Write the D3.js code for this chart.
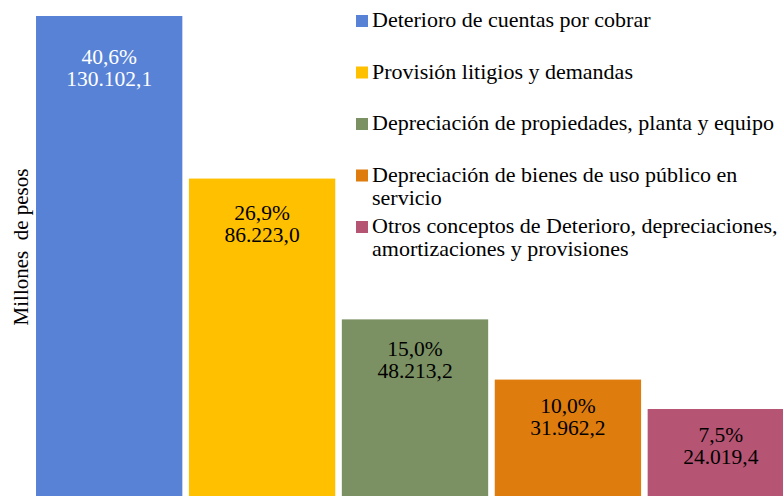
<!DOCTYPE html>
<html>
<head>
<meta charset="utf-8">
<script src="https://cdn.jsdelivr.net/npm/d3@7"></script>
<style>
  body { margin: 0; background: #fff; }
</style>
</head>
<body>
<div id="chart"></div>
<script>
// data
var categories = [
  "Deterioro de cuentas por cobrar",
  "Provisión litigios y demandas",
  "Depreciación de propiedades, planta y equipo",
  "Depreciación de bienes de uso público en servicio",
  "Otros conceptos de Deterioro, depreciaciones, amortizaciones y provisiones"
];
var values = [130102.1, 86223.0, 48213.2, 31962.2, 24019.4];
var shares = ["40,6%", "26,9%", "15,0%", "10,0%", "7,5%"];
var valueLabels = ["130.102,1", "86.223,0", "48.213,2", "31.962,2", "24.019,4"];
// legend lines as wrapped in the original
var legendLines = [
  ["Deterioro de cuentas por cobrar"],
  ["Provisión litigios y demandas"],
  ["Depreciación de propiedades, planta y equipo"],
  ["Depreciación de bienes de uso público en", "servicio"],
  ["Otros conceptos de Deterioro, depreciaciones,", "amortizaciones y provisiones"]
];
var colors = ["#5882d6", "#ffc000", "#7b9163", "#de7c0e", "#b65473"];

var width = 784, height = 496;
var serif = "'Liberation Serif', 'Times New Roman', Tinos, 'DejaVu Serif', serif";

var svg = d3.select("#chart")
  .append("svg")
    .attr("width", width)
    .attr("height", height)
    .style("font-family", serif);

svg.append("clipPath")
    .attr("id", "plotclip")
  .append("rect")
    .attr("x", 0).attr("y", 0)
    .attr("width", 783).attr("height", height);

// scales
var x = d3.scaleBand()
  .domain(categories)
  .range([36, 794])
  .paddingInner(0.043)
  .paddingOuter(0);

var y = d3.scaleLinear()
  .domain([0, d3.max(values)])
  .range([498, 16]);

var plot = svg.append("g").attr("clip-path", "url(#plotclip)");

// bars
plot.selectAll("rect.bar")
  .data(values)
  .enter()
  .append("rect")
    .attr("class", "bar")
    .attr("x", function(d, i) { return x(categories[i]); })
    .attr("y", function(d) { return y(d); })
    .attr("width", x.bandwidth())
    .attr("height", function(d) { return y(0) - y(d); })
    .attr("fill", function(d, i) { return colors[i]; });

// labels inside the bars
var labels = plot.selectAll("g.lab")
  .data(values)
  .enter()
  .append("g")
    .attr("class", "lab")
    .attr("transform", function(d, i) {
      var h = y(0) - y(d);
      var cx = x(categories[i]) + x.bandwidth() / 2;
      return "translate(" + cx + "," + (y(d) + 29 + 0.04 * h) + ")";
    });

labels.append("text")
    .attr("text-anchor", "middle")
    .attr("font-size", 21.5)
    .attr("fill", function(d, i) { return i === 0 ? "#fff" : "#000"; })
    .text(function(d, i) { return shares[i]; });

labels.append("text")
    .attr("text-anchor", "middle")
    .attr("y", 22)
    .attr("font-size", 21.5)
    .attr("fill", function(d, i) { return i === 0 ? "#fff" : "#000"; })
    .text(function(d, i) { return valueLabels[i]; });

// y axis title
svg.append("text")
    .attr("text-anchor", "middle")
    .attr("transform", "translate(28,247) rotate(-90)")
    .attr("font-size", 21)
    .attr("fill", "#000")
    .style("white-space", "pre")
    .text("Millones  de pesos");

// legend
var legend = svg.selectAll("g.legend")
  .data(legendLines)
  .enter()
  .append("g")
    .attr("class", "legend")
    .attr("transform", function(d, i) { return "translate(356," + (27 + 51.5 * i) + ")"; });

legend.append("rect")
    .attr("x", 0)
    .attr("y", -12)
    .attr("width", 12)
    .attr("height", 12)
    .attr("fill", function(d, i) { return colors[i]; });

legend.selectAll("text")
  .data(function(d) { return d; })
  .enter()
  .append("text")
    .attr("x", 16)
    .attr("y", function(d, j) { return j * 23; })
    .attr("font-size", 22)
    .attr("fill", "#000")
    .text(function(d) { return d; });
</script>
</body>
</html>
